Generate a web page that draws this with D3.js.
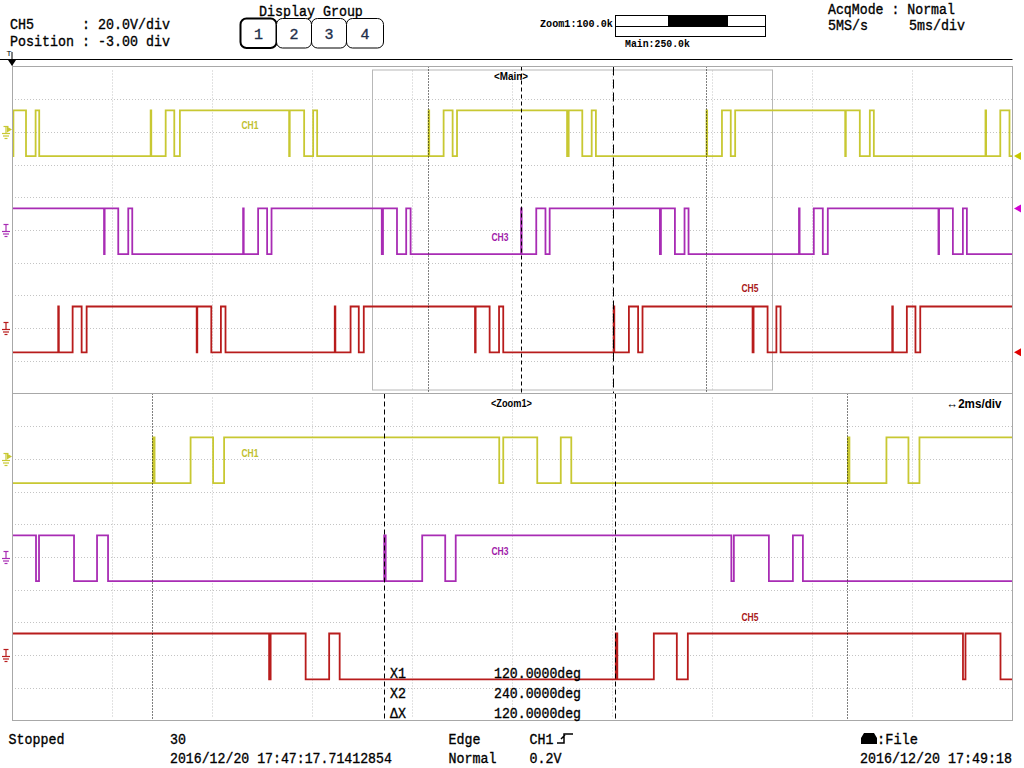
<!DOCTYPE html>
<html><head><meta charset="utf-8">
<script src="https://cdn.jsdelivr.net/npm/d3@7/dist/d3.min.js"></script>
<style>html,body{margin:0;padding:0;background:#fff;overflow:hidden} text{white-space:pre}</style>
</head><body><svg id="c" width="1024" height="768"></svg>
<script>
// ---------------- DATA ----------------
const channelNames = ["CH1", "CH3", "CH5"];
const channelColors = ["#c8c832", "#a82cb4", "#b81c1c"];
const labelColors = ["#c0c030", "#a01ca8", "#a81818"];
const markerColors = ["#c8c800", "#d000d0", "#e00000"];
const channelOffsetDiv = [3, 0, -3];      // ground position (div)
const levelHighDiv = 0.66;                // logic high relative to ground (div)
const levelLowDiv = -0.74;                // logic low relative to ground (div)
const startLevels = [1, 1, 0];            // level at t = 0 (1 = high)
// toggle times (ms)
const ch1Edges = [0.04, 0.07, 0.70, 1.18, 1.36, 6.93, 6.96, 7.68, 8.11, 8.39, 13.85, 13.88, 14.60, 15.05, 15.25,
  20.82, 20.85, 21.57, 22.02, 22.24, 27.74, 27.82, 28.50, 28.97, 29.18, 34.71, 34.74, 35.48, 35.92, 36.14,
  41.64, 41.67, 42.37, 42.87, 43.07, 48.65, 48.68, 49.39, 49.85];
const ch3Edges = [4.60, 4.63, 5.31, 5.81, 6.01, 11.55, 11.58, 12.30, 12.75, 12.97, 18.48, 18.54, 19.24, 19.70, 19.92,
  25.44, 25.47, 26.20, 26.66, 26.87, 32.38, 32.43, 33.13, 33.61, 33.81, 39.33, 39.36, 40.07, 40.52, 40.77,
  46.30, 46.33, 47.02, 47.52, 47.72];
const ch5Edges = [2.31, 2.34, 3.03, 3.48, 3.73, 9.23, 9.26, 9.96, 10.44, 10.67, 16.13, 16.16, 16.92, 17.33, 17.58,
  23.14, 23.17, 23.87, 24.34, 24.55, 30.07, 30.10, 30.83, 31.29, 31.51, 37.01, 37.06, 37.76, 38.20, 38.41,
  43.99, 44.02, 44.72, 45.15, 45.39];
const channelEdges = [ch1Edges, ch3Edges, ch5Edges];
const mainWindow = [0, 50];               // 5 ms/div x 10 div
const zoomWindow = [18, 38];              // 2 ms/div x 10 div
const cursorTimes = [20.79, 25.43, 30.05, 34.70]; // 0deg ref, X1, X2, 360deg ref
const cursorNames = ["X1", "X2", "ΔX"];
const cursorValues = ["120.0000deg", "240.0000deg", "120.0000deg"];
const displayGroups = ["1", "2", "3", "4"];

// ---------------- LAYOUT ----------------
const W = 1024, H = 768, L = 12, R = 1012.5, PH = 327;
const panels = [
  { top: 66.5, domain: mainWindow, title: "<Main>", titleX: 494, titleLen: 34,
    labelPos: [[241.5, 129], [491.5, 241], [741.5, 292]],
    lineDash: ["1 2", "4 3", "9 4", "1 2"] },
  { top: 393.5, domain: zoomWindow, title: "<Zoom1>", titleX: 491, titleLen: 41,
    labelPos: [[241.5, 457], [491.5, 555], [741.5, 621]],
    lineDash: ["1 2", "5 3", "5 3", "1 2"] }
];
const MONO = "'Liberation Mono', 'DejaVu Sans Mono', monospace";
const SANS = "'Liberation Sans', 'DejaVu Sans', sans-serif";

const svg = d3.select("#c");
svg.append("rect").attr("width", W).attr("height", H).attr("fill", "#fff");

// text squeezed horizontally to the narrow scope font
function txt(x, y, s, o = {}) {
  const fill = o.fill || "#000";
  const t = svg.append("text").attr("x", 0).attr("y", 0).text(s)
    .attr("font-family", o.family || MONO)
    .attr("font-size", o.size || 15)
    .attr("font-weight", o.weight || "normal")
    .attr("fill", fill)
    .attr("text-anchor", o.anchor || "start");
  if (!o.family && !o.weight) t.attr("stroke", fill).attr("stroke-width", 0.35);
  const len = o.len !== undefined ? o.len : s.length * 8;
  const nat = t.node().getComputedTextLength() || len;
  const sx = len / nat;
  t.attr("transform", `translate(${x},${y}) scale(${sx},1)`);
  return t;
}

function wavePoints(start, edges, t0, t1) {
  let lv = start; const pts = [[t0, lv]];
  edges.forEach(e => { pts.push([e, lv]); lv = 1 - lv; pts.push([e, lv]); });
  pts.push([t1, lv]);
  return pts;
}

const defs = svg.append("defs");

panels.forEach((p, pi) => {
  const x = d3.scaleLinear().domain(p.domain).range([L, R]);
  const y = d3.scaleLinear().domain([5, -5]).range([p.top, p.top + PH]);
  const g = svg.append("g");

  // grid
  g.selectAll("line.gh").data(d3.range(-4, 5)).join("line")
    .attr("x1", L).attr("x2", R).attr("y1", d => Math.round(y(d)) + 0.5).attr("y2", d => Math.round(y(d)) + 0.5)
    .attr("stroke", "#c4c4c4").attr("stroke-width", 1).attr("stroke-dasharray", "1 2");
  const span = p.domain[1] - p.domain[0];
  g.selectAll("line.gv").data(d3.range(1, 10).map(k => p.domain[0] + k * span / 10)).join("line")
    .attr("x1", d => Math.round(x(d)) + 0.5).attr("x2", d => Math.round(x(d)) + 0.5)
    .attr("y1", p.top + 4).attr("y2", p.top + PH - 3)
    .attr("stroke", "#c4c4c4").attr("stroke-width", 1).attr("stroke-dasharray", "1 2");

  // zoom region box on main
  if (pi === 0) {
    g.append("rect").attr("x", Math.round(x(zoomWindow[0])) + 0.5).attr("y", p.top + 3.5)
      .attr("width", Math.round(x(zoomWindow[1]) - x(zoomWindow[0]))).attr("height", PH - 7)
      .attr("fill", "none").attr("stroke", "#b8b8b8").attr("stroke-width", 1);
  }

  // traces
  const cid = "clip" + pi;
  defs.append("clipPath").attr("id", cid).append("rect")
    .attr("x", L).attr("y", p.top).attr("width", R - L).attr("height", PH);
  const tg = g.append("g").attr("clip-path", `url(#${cid})`);
  channelNames.forEach((c, ci) => {
    const line = d3.line()
      .x(d => x(d[0]))
      .y(d => y(channelOffsetDiv[ci] + (d[1] ? levelHighDiv : levelLowDiv)));
    tg.append("path").attr("d", line(wavePoints(startLevels[ci], channelEdges[ci], mainWindow[0], mainWindow[1])))
      .attr("fill", "none").attr("stroke", channelColors[ci]).attr("stroke-width", 1.8)
      .attr("stroke-linejoin", "miter");
  });

  // cursor / reference lines
  g.selectAll("line.cur").data(cursorTimes).join("line")
    .attr("x1", d => Math.round(x(d)) + 0.5).attr("x2", d => Math.round(x(d)) + 0.5)
    .attr("y1", p.top).attr("y2", p.top + PH)
    .attr("stroke", "#000").attr("stroke-width", 1)
    .attr("stroke-dasharray", (d, i) => p.lineDash[i]);

  // channel labels
  channelNames.forEach((c, ci) => {
    txt(p.labelPos[ci][0], p.labelPos[ci][1], c, { family: SANS, size: 11, weight: "bold", fill: labelColors[ci], len: 17 });
  });
  txt(p.titleX, p.top + 13.5, p.title, { family: SANS, size: 11, weight: "bold", len: p.titleLen });

  // ground markers on the left
  channelNames.forEach((c, ci) => {
    const gy = Math.round(y(channelOffsetDiv[ci])) + 0.5;
    const col = channelColors[ci];
    const m = g.append("g").attr("stroke", col).attr("stroke-width", 1.2).attr("fill", "none");
    m.append("line").attr("x1", 6).attr("x2", 6).attr("y1", gy - 6).attr("y2", gy + 1);
    m.append("line").attr("x1", 3.5).attr("x2", 8.5).attr("y1", gy - 6).attr("y2", gy - 6);
    m.append("line").attr("x1", 2).attr("x2", 10).attr("y1", gy + 1).attr("y2", gy + 1);
    m.append("line").attr("x1", 3).attr("x2", 9).attr("y1", gy + 3.5).attr("y2", gy + 3.5);
    m.append("line").attr("x1", 4.5).attr("x2", 7.5).attr("y1", gy + 6).attr("y2", gy + 6);
    if (ci === 0) {
      g.append("path").attr("d", `M7,${gy - 6} L12,${gy - 3} L7,${gy}Z`).attr("fill", col);
    }
  });

  // right level markers (main only)
  if (pi === 0) {
    channelNames.forEach((c, ci) => {
      const lv = ci === 1 ? levelHighDiv : levelLowDiv;
      const my = y(channelOffsetDiv[ci] + lv);
      g.append("path").attr("d", `M1014,${my} L1021,${my - 4} L1021,${my + 4}Z`).attr("fill", markerColors[ci]);
    });
  }
});

// frame
const frame = svg.append("g").attr("stroke", "#a8a8a8").attr("stroke-width", 1).attr("fill", "none");
frame.append("line").attr("x1", 12.5).attr("x2", 12.5).attr("y1", 60).attr("y2", 721);
frame.append("line").attr("x1", R).attr("x2", R).attr("y1", 66).attr("y2", 721);
[66.5, 393.5, 720.5].forEach(yy => frame.append("line").attr("x1", 12).attr("x2", R).attr("y1", yy).attr("y2", yy));
svg.append("line").attr("x1", 0).attr("x2", R).attr("y1", 59.5).attr("y2", 59.5).attr("stroke", "#000").attr("stroke-width", 1);

// trigger marker
txt(6.5, 56, "T", { family: SANS, size: 8, len: 5 });
svg.append("line").attr("x1", 12).attr("x2", 12).attr("y1", 52).attr("y2", 64).attr("stroke", "#000");
svg.append("path").attr("d", "M8,60 L16,60 L12,66Z").attr("fill", "#000");

// header
txt(10, 29, "CH5      : 20.0V/div");
txt(10, 46, "Position : -3.00 div");
txt(259, 16, "Display Group", { len: 104 });
const bx = [240, 276, 311, 346, 383];
displayGroups.forEach((d, i) => {
  svg.append("rect").attr("x", bx[i] + 0.5).attr("y", 18.5).attr("width", bx[i + 1] - bx[i]).attr("height", 29.5)
    .attr("rx", 6).attr("fill", "#fff").attr("stroke", "#000").attr("stroke-width", i === 0 ? 2 : 1);
});
displayGroups.forEach((d, i) => {
  txt((bx[i] + bx[i + 1]) / 2 + 0.5, 39, d, { anchor: "middle", fill: "#1e2e4a", len: 9 });
});
txt(540, 27, "Zoom1:100.0k", { size: 11.5, weight: "bold", len: 73 });
txt(625, 47, "Main:250.0k", { size: 11.5, weight: "bold", len: 65 });
svg.append("rect").attr("x", 615.5).attr("y", 15.5).attr("width", 150).attr("height", 21).attr("fill", "none").attr("stroke", "#000");
svg.append("line").attr("x1", 615.5).attr("x2", 765.5).attr("y1", 26.5).attr("y2", 26.5).attr("stroke", "#000");
svg.append("rect").attr("x", 668).attr("y", 16).attr("width", 60).attr("height", 10.5).attr("fill", "#000");
txt(828, 13.5, "AcqMode : Normal", { len: 127 });
txt(828, 30, "5MS/s");
txt(909, 30, "5ms/div");
txt(946.5, 408, "↔2ms/div", { family: SANS, size: 13, weight: "bold", len: 55 });

// cursor readouts
cursorNames.forEach((n, i) => {
  txt(390, 678 + i * 20, n, { len: 16 });
  txt(581, 678 + i * 20, cursorValues[i], { anchor: "end", len: 87 });
});

// status bar
txt(8.5, 744, "Stopped");
txt(170, 743.5, "30");
txt(170, 763, "2016/12/20 17:47:17.71412854", { len: 222 });
txt(448.5, 743.5, "Edge");
txt(448.5, 763, "Normal");
txt(529.5, 743.5, "CH1");
txt(529.5, 763, "0.2V");
svg.append("path").attr("d", "M557,743 H564 V734 H573 M561,739 L565,735").attr("fill", "none").attr("stroke", "#000").attr("stroke-width", 1.5);
svg.append("path").attr("d", "M864,733 H874 L877,738 H861Z M861,738 H877 V744 H861Z").attr("fill", "#000");
txt(877, 743.5, ":File", { len: 41 });
txt(860, 763, "2016/12/20 17:49:18", { len: 152 });
</script></body></html>
